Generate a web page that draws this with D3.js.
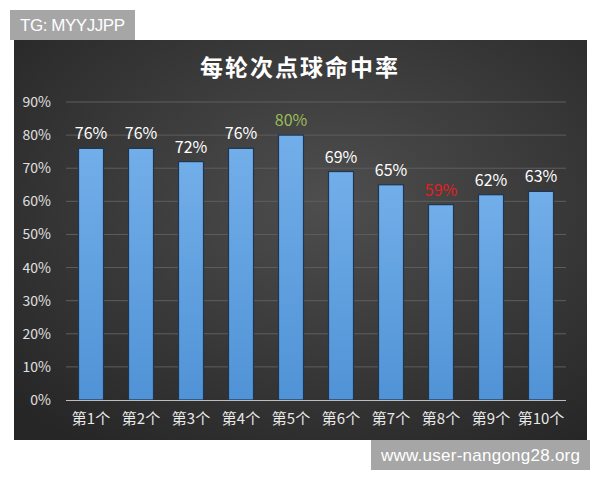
<!DOCTYPE html>
<html><head><meta charset="utf-8">
<script src="https://cdn.jsdelivr.net/npm/d3@7"></script>
<style>body{margin:0;background:#fff;}svg{display:block;}</style>
</head><body>
<svg id="c" width="600" height="480"></svg>
<script>
const categories = ["第1个","第2个","第3个","第4个","第5个","第6个","第7个","第8个","第9个","第10个"];
const values = [76,76,72,76,80,69,65,59,62,63];
const labelColors = ["#ffffff","#ffffff","#ffffff","#ffffff","#9bbb59","#ffffff","#ffffff","#e02020","#ffffff","#ffffff"];
const yTicks = [0,10,20,30,40,50,60,70,80,90];
const title = "每轮次点球命中率";

const svg = d3.select("#c");
const defs = svg.append("defs");
const bg = defs.append("radialGradient").attr("id","bg").attr("cx","55%").attr("cy","40%").attr("r","75%");
bg.append("stop").attr("offset","0%").attr("stop-color","#4e4e4e");
bg.append("stop").attr("offset","100%").attr("stop-color","#262626");
const bar = defs.append("linearGradient").attr("id","bar").attr("x1",0).attr("y1",0).attr("x2",0).attr("y2",1);
bar.append("stop").attr("offset","0%").attr("stop-color","#72aee9");
bar.append("stop").attr("offset","100%").attr("stop-color","#5093d6");

svg.append("rect").attr("x",14).attr("y",40).attr("width",573).attr("height",400).attr("fill","url(#bg)");

const x = d3.scaleBand().domain(categories).range([66,566]).paddingInner(0.5).paddingOuter(0.25);
const y = d3.scaleLinear().domain([0,90]).range([400,102]);

const font = "'Noto Sans CJK SC', 'Noto Sans', sans-serif";

// grid
svg.append("g").selectAll("line").data(yTicks.filter(d=>d>0)).join("line")
  .attr("x1",66).attr("x2",566).attr("y1",d=>y(d)).attr("y2",d=>y(d))
  .attr("stroke","#5e5e5e").attr("stroke-width",1);

// y axis labels
const yAxis = d3.axisLeft(y).tickValues(yTicks).tickFormat(d=>d+"%").tickSize(0).tickPadding(0);
const ya = svg.append("g").attr("transform","translate(51,0)").call(yAxis);
ya.select(".domain").remove();
ya.selectAll("text").attr("fill","#e0e0e0").attr("font-size",14).attr("font-family",font);

// bars
svg.append("g").selectAll("rect").data(values).join("rect")
  .attr("x",(d,i)=>x(categories[i])).attr("width",x.bandwidth())
  .attr("y",d=>y(d)).attr("height",d=>y(0)-y(d))
  .attr("fill","url(#bar)").attr("stroke","#1f3550").attr("stroke-width",1.2);

// baseline
svg.append("line").attr("x1",66).attr("x2",566).attr("y1",400.5).attr("y2",400.5).attr("stroke","#bdbdbd").attr("stroke-width",1);

// x labels
const xAxis = d3.axisBottom(x).tickSize(0).tickPadding(0);
const xa = svg.append("g").attr("transform","translate(0,413)").call(xAxis);
xa.select(".domain").remove();
xa.selectAll("text").attr("fill","#e8e8e8").attr("font-size",15).attr("font-family",font).attr("dy","0.71em");

// value labels
svg.append("g").selectAll("text").data(values).join("text")
  .attr("x",(d,i)=>x(categories[i])+x.bandwidth()/2).attr("y",d=>y(d)-9)
  .attr("text-anchor","middle").attr("font-size",16).attr("font-family",font)
  .attr("fill",(d,i)=>labelColors[i]).text(d=>d+"%");

// title
svg.append("text").attr("x",300).attr("y",76).attr("text-anchor","middle")
  .attr("font-size",23).attr("font-weight","bold").attr("font-family",font)
  .attr("fill","#ffffff").attr("letter-spacing",2).text(title);

// watermarks
const wfont = "'Liberation Sans', Arial, sans-serif";
svg.append("rect").attr("x",10).attr("y",10).attr("width",125).attr("height",30).attr("fill","#a6a6a6");
svg.append("text").attr("x",20).attr("y",31).attr("font-size",17).attr("font-family",wfont).attr("textLength",105).attr("fill","#ffffff").text("TG: MYYJJPP");
svg.append("rect").attr("x",371).attr("y",440).attr("width",219).attr("height",30).attr("fill","#a6a6a6");
svg.append("text").attr("x",381).attr("y",461).attr("font-size",17).attr("font-family",wfont).attr("textLength",199).attr("fill","#ffffff").text("www.user-nangong28.org");
</script>
</body></html>
